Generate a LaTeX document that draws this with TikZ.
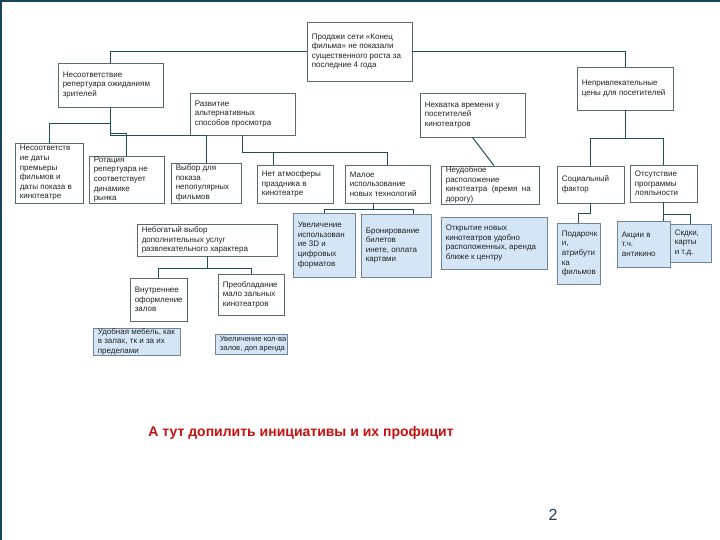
\documentclass[tikz,border=0pt]{standalone}
\usepackage{fontspec}
\setmainfont{Liberation Sans}
\definecolor{boxline}{HTML}{5A6A70}
\definecolor{connc}{HTML}{1E4E5C}
\definecolor{bboxline}{HTML}{6F8496}
\definecolor{boxblue}{HTML}{D4E6F5}
\definecolor{framec}{HTML}{17455A}
\definecolor{textc}{HTML}{222222}
\definecolor{redtxt}{HTML}{C81010}
\definecolor{navytxt}{HTML}{1F3A5A}
\newcommand\mybox[7]{\node[#7, minimum width={(#4-#2)*1pt}, minimum height={(#5-#3)*1pt}] (#1) at ({(#2+#4)/2},{(#3+#5)/2}) {};
  \node[txt] at ([xshift=5pt]#1.west) {#6};}
\newcommand\smtxt{\fontsize{7.6}{9.6}\selectfont}
\begin{document}
\begin{tikzpicture}[x=1pt,y=-1pt,
  box/.style={draw=boxline, fill=white, line width=0.8pt, inner sep=0pt},
  bbox/.style={draw=bboxline, fill=boxblue, line width=0.8pt, inner sep=0pt},
  txt/.style={font=\fontsize{8}{9.6}\selectfont, align=left, inner sep=0pt, anchor=west, text=textc},
  conn/.style={draw=connc, line width=1pt}]
\useasboundingbox[fill=white] (0,0) rectangle (720,540);
\draw[framec, line width=2pt] (0,1.5) -- (720,1.5);
\draw[framec, line width=1.5pt] (1,0) -- (1,540);

\mybox{root}{307}{22}{412}{81}{Продажи сети «Конец\\фильма» не показали\\существенного роста за\\последние 4 года}{box}
\mybox{nes}{58}{63}{163}{107}{Несоответствие\\репертуара ожиданиям\\зрителей}{box}
\mybox{nep}{577}{67}{673}{110}{Непривлекательные\\цены для посетителей}{box}
\mybox{razv}{190}{93}{295}{135}{Развитие\\альтернативных\\способов просмотра}{box}
\mybox{nehv}{420}{93}{525}{137}{Нехватка времени у\\посетителей\\кинотеатров}{box}
\mybox{nd}{15}{143}{83}{203}{Несоответств\\ие даты\\премьеры\\фильмов и\\даты показа в\\кинотеатре}{box}
\mybox{rot}{89}{156}{164}{203}{Ротация\\репертуара не\\соответствует\\динамике\\рынка}{box}
\mybox{vyb}{171}{163}{241}{203}{Выбор для\\показа\\непопулярных\\фильмов}{box}
\mybox{net}{257}{165}{333}{203}{Нет атмосферы\\праздника в\\кинотеатре}{box}
\mybox{mal}{345}{165}{430}{203}{Малое\\использование\\новых технологий}{box}
\mybox{neud}{441}{166}{539}{204}{Неудобное\\расположение\\кинотеатра~~(время~~на\\дорогу)}{box}
\mybox{soc}{557}{166}{624}{203}{Социальный\\фактор}{box}
\mybox{ots}{630}{165}{697}{202}{Отсутствие\\программы\\лояльности}{box}
\mybox{uvel}{293}{213}{355}{277}{Увеличение\\использован\\ие 3D и\\цифровых\\форматов}{bbox}
\mybox{bron}{361}{214}{431}{277}{Бронирование\\билетов\\инете, оплата\\картами}{bbox}
\mybox{otkr}{441}{217}{547}{269}{Открытие новых\\кинотеатров удобно\\расположенных, аренда\\ближе к центру}{bbox}
\mybox{pod}{557}{223}{600}{284}{Подарочк\\и,\\атрибути\\ка\\фильмов}{bbox}
\mybox{akc}{617}{221}{670}{267}{Акции в\\т.ч.\\антикино}{bbox}
\mybox{skd}{670}{224}{711}{262}{Скдки,\\карты\\и т.д.}{bbox}
\mybox{neb}{137}{224}{277}{256}{Небогатый выбор\\дополнительных услуг\\развлекательного характера}{box}
\mybox{vnut}{130}{278}{187}{321}{Внутреннее\\оформление\\залов}{box}
\mybox{preo}{218}{274}{284}{315}{Преобладание\\мало зальных\\кинотеатров}{box}
\mybox{meb}{93}{328}{180}{355}{Удобная мебель, как\\в залах, тк и за их\\пределами}{bbox}
\mybox{uvz}{215}{334}{287}{354}{\smtxt Увеличение кол-ва\\\smtxt залов, доп аренда}{bbox}

\draw[conn] (root.west) -| (nes.north);
\draw[conn] (root.east) -| (nep.north);
\draw[conn] (nes.south) -- ++(0,16) -| (nd.north);
\draw[conn] (nes.south) -- ++(0,26) -| (rot.north);
\draw[conn] (nes.south) -- ++(0,28) -| (vyb.north);
\draw[conn] (razv.south) -- ++(0,17) -| ([xshift=-22pt]net.north);
\draw[conn] (razv.south) -- ++(0,17) -| (mal.north);
\draw[conn] (nehv.south) -- ([xshift=4pt]neud.north);
\draw[conn] (nep.south) -- ++(0,28) -| (soc.north);
\draw[conn] (nep.south) -- ++(0,28) -| (ots.north);
\draw[conn] ([xshift=-14pt]mal.south) -- ++(0,6) -| (uvel.north);
\draw[conn] ([xshift=-14pt]mal.south) -- ++(0,6) -| ([xshift=17pt]bron.north);
\draw[conn] (soc.south) -- ++(0,10) -| (pod.north);
\draw[conn] (ots.south) -- (ots.south |- akc.north);
\draw[conn] (ots.south) -- ++(0,12) -| (skd.north);
\draw[conn] (neb.south) -- ++(0,12) -| (vnut.north);
\draw[conn] (neb.south) -- ++(0,12) -| (preo.north);

\node[font=\fontsize{14}{16}\selectfont\bfseries, text=redtxt, inner sep=0pt] (red) at (301,433) {А тут допилить инициативы и их профицит};
\node[font=\fontsize{16}{18}\selectfont, text=navytxt, inner sep=0pt] (pg) at (553,515) {2};
\end{tikzpicture}
\end{document}
